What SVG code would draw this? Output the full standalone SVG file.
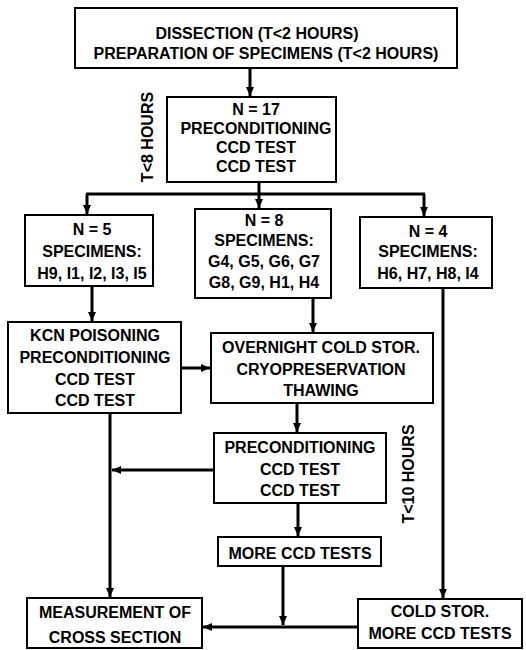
<svg xmlns="http://www.w3.org/2000/svg" width="526" height="650" viewBox="0 0 526 650">
<defs>
<style>
.box{fill:#fff;stroke:#000;stroke-width:2}
.t{font-family:"Liberation Sans",Arial,sans-serif;font-weight:bold;font-size:16px;fill:#000;text-anchor:middle}
.c{fill:none;stroke:#000;stroke-width:3}
</style>
<marker id="ah" markerUnits="userSpaceOnUse" markerWidth="10" markerHeight="8" refX="9" refY="4" orient="auto">
<path d="M0,0 L9,4 L0,8 Z" fill="#000"/>
</marker>
</defs>
<rect width="526" height="650" fill="#fff"/>
<g id="connectors">
<path class="c" d="M250,69 V96" marker-end="url(#ah)"/>
<path class="c" d="M259,183 V208" marker-end="url(#ah)"/>
<path class="c" d="M86,194 H425"/>
<path class="c" d="M87,194 V214" marker-end="url(#ah)"/>
<path class="c" d="M424,194 V216" marker-end="url(#ah)"/>
<path class="c" d="M92,287 V321" marker-end="url(#ah)"/>
<path class="c" d="M313,299 V332" marker-end="url(#ah)"/>
<path class="c" d="M443,289 V598" marker-end="url(#ah)"/>
<path class="c" d="M182,368 H210" marker-end="url(#ah)"/>
<path class="c" d="M110,414 V597" marker-end="url(#ah)"/>
<path class="c" d="M297,404 V432" marker-end="url(#ah)"/>
<path class="c" d="M213,470 H112" marker-end="url(#ah)"/>
<path class="c" d="M298,504 V536" marker-end="url(#ah)"/>
<path class="c" d="M283,567 V625" marker-end="url(#ah)"/>
<path class="c" d="M357,627 H203" marker-end="url(#ah)"/>
</g>
<g id="dissection">
<rect class="box" x="75" y="8" width="382" height="60"/>
<text class="t" x="257" y="39">DISSECTION (T&lt;2 HOURS)</text>
<text class="t" x="266" y="59">PREPARATION OF SPECIMENS (T&lt;2 HOURS)</text>
</g>
<g id="n17">
<rect class="box" x="167" y="97" width="169" height="85"/>
<text class="t" x="256" y="115">N = 17</text>
<text class="t" x="256" y="134">PRECONDITIONING</text>
<text class="t" x="256" y="153">CCD TEST</text>
<text class="t" x="256" y="172">CCD TEST</text>
</g>
<g id="label-t8">
<text class="t" transform="translate(153,137) rotate(-90)">T&lt;8 HOURS</text>
</g>
<g id="n5">
<rect class="box" x="25" y="215" width="128" height="71"/>
<text class="t" x="92" y="235">N = 5</text>
<text class="t" x="92" y="257">SPECIMENS:</text>
<text class="t" x="92" y="279">H9, I1, I2, I3, I5</text>
</g>
<g id="n8">
<rect class="box" x="195" y="209" width="136" height="89"/>
<text class="t" x="264" y="226">N = 8</text>
<text class="t" x="264" y="246">SPECIMENS:</text>
<text class="t" x="264" y="267">G4, G5, G6, G7</text>
<text class="t" x="264" y="288">G8, G9, H1, H4</text>
</g>
<g id="n4">
<rect class="box" x="360" y="217" width="132" height="71"/>
<text class="t" x="428" y="237">N = 4</text>
<text class="t" x="428" y="257">SPECIMENS:</text>
<text class="t" x="428" y="279">H6, H7, H8, I4</text>
</g>
<g id="kcn">
<rect class="box" x="8" y="322" width="173" height="91"/>
<text class="t" x="95" y="341">KCN POISONING</text>
<text class="t" x="95" y="363">PRECONDITIONING</text>
<text class="t" x="95" y="385">CCD TEST</text>
<text class="t" x="95" y="406">CCD TEST</text>
</g>
<g id="overnight">
<rect class="box" x="211" y="333" width="222" height="70"/>
<text class="t" x="321" y="353">OVERNIGHT COLD STOR.</text>
<text class="t" x="321" y="375">CRYOPRESERVATION</text>
<text class="t" x="321" y="396">THAWING</text>
</g>
<g id="precond2">
<rect class="box" x="214" y="433" width="172" height="70"/>
<text class="t" x="300" y="453">PRECONDITIONING</text>
<text class="t" x="300" y="475">CCD TEST</text>
<text class="t" x="300" y="496">CCD TEST</text>
</g>
<g id="label-t10">
<text class="t" transform="translate(414,474) rotate(-90)">T&lt;10 HOURS</text>
</g>
<g id="moreccd">
<rect class="box" x="218" y="537" width="163" height="29"/>
<text class="t" x="300" y="559">MORE CCD TESTS</text>
</g>
<g id="measurement">
<rect class="box" x="27" y="598" width="175" height="50"/>
<text class="t" x="115" y="618">MEASUREMENT OF</text>
<text class="t" x="115" y="643">CROSS SECTION</text>
</g>
<g id="coldstor">
<rect class="box" x="358" y="599" width="164" height="49"/>
<text class="t" x="440" y="617">COLD STOR.</text>
<text class="t" x="440" y="639">MORE CCD TESTS</text>
</g>
</svg>
